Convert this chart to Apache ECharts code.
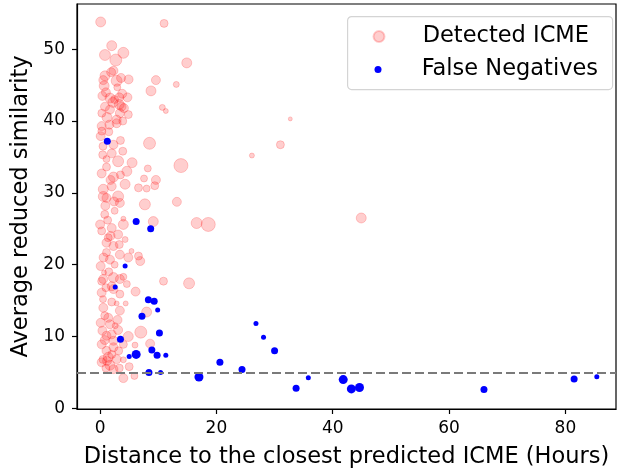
<!DOCTYPE html>
<html>
<head>
<meta charset="utf-8">
<script src="https://cdn.jsdelivr.net/npm/echarts@6/dist/echarts.min.js"></script>
<style>html,body{margin:0;padding:0;background:#fff}#c{width:618px;height:474px}</style>
</head>
<body>
<div id="c"></div>
<script>
// [distance (h), similarity, weight]
const detected = [
[0.1,53.8,8],[11.0,53.6,6],[2.0,50.5,8],[0.84,49.2,9],[4.0,49.5,9],[2.7,48.5,10],[14.9,48.1,8],[2.3,47.0,7],[0.84,46.3,8],[0.55,45.7,7],[2.85,45.6,9],[4.9,45.8,7],[0.7,44.9,8],[9.6,45.7,7],[13.1,45.1,4],[8.75,44.2,8],[2.96,44.7,5],[1.7,43.2,8],[3.3,43.3,7],[4.7,43.3,7],[3.3,42.3,8],[0.84,42.0,7],[10.7,41.9,4],[11.3,41.4,3],[3.7,42.0,7],[3.4,41.1,7],[1.7,41.6,7],[0.3,41.1,6],[4.85,40.9,6],[2.85,40.2,7],[32.7,40.3,2],
[0.27,39.3,7],[1.6,39.5,7],[2.85,39.7,7],[0.1,37.9,7],[2.3,36.7,7],[3.5,37.3,6],[8.5,36.9,10],[31.0,36.7,6],[26.1,35.2,3],[0.45,35.3,6],[1.1,34.7,5],[3.1,34.4,9],[5.5,34.2,8],[13.9,33.8,12],[1.1,33.6,6],[4.6,33.0,8],[8.2,33.4,5],[2.3,32.2,8],[0.27,32.7,7],[7.55,32.0,5],[9.6,31.8,7],[4.3,31.2,8],[6.6,30.7,6],[8.0,30.6,5],[9.4,31.0,6],[0.55,30.5,8],[2.0,30.9,7],[0.55,29.5,8],[3.1,29.5,9],[13.2,28.75,7],[7.7,28.4,9],[3.4,28.6,7],[1.1,29.3,7],
[9.15,26.0,8],[16.6,25.8,9],[18.6,25.6,12],[44.9,26.5,8],[4.0,26.4,3],[0,25.6,7],[0.27,24.7,6],[2.0,25.1,7],[4.0,25.6,8],[3.1,24.2,7],[1.4,23.75,6],[4.3,23.5,4],[1.1,23.05,7],[2.3,22.6,7],[5.4,21.9,3],[1.1,21.7,6],[1.7,20.7,7],[3.4,21.4,7],[4.85,21.0,7],[6.6,21.2,6],[6.9,20.5,7],[0.1,19.8,7],
[0.67,18.9,3],[0.55,18.0,7],[2.3,18.2,8],[3.4,18.0,7],[10.9,17.7,6],[15.3,17.4,9],[4.6,17.3,5],[0.27,17.7,6],[0.27,16.1,7],[2.3,16.6,7],[4.0,18.3,5],[6.1,16.25,7],[3.4,15.9,6],[2.85,14.6,3],[4.4,14.6,3],[0.55,14.0,7],[3.4,13.6,7],[8.0,13.4,8],[1.4,12.6,7],[0.1,11.9,7],[1.7,11.7,7],[2.6,11.5,4],[0.4,10.8,7],[3.1,10.9,7],[7.0,10.6,10],[4.85,10.0,8],[1.1,10.1,7],
[2.3,9.4,7],[4.0,8.9,6],[8.6,9.0,7],[0.27,8.9,7],[6.0,8.8,4],[1.1,8.0,7],[2.3,8.5,7],[1.4,7.1,8],[0.27,6.4,7],[1.7,6.0,8],[2.85,6.85,7],[4.0,6.75,4],[5.0,5.8,6],[5.9,4.5,5],[4.0,4.2,7],[2.3,5.45,7],
[0.5,6.8,6],[1.0,5.6,6],[2.0,7.5,6],[0.8,12.9,6],[2.0,14.8,6],[0.5,15.2,5],[1.5,19.0,6],[2.5,20.0,5],[0.8,27.0,6],[1.3,26.2,6],[2.5,27.5,5],[0.5,36.5,6],[1.5,38.5,6],[2.5,43.0,6],[1.0,44.0,7],[3.9,40.0,6],
[1.2,40.5,8],[2.2,42.6,8],[4.1,41.8,7],[3.8,43.8,7],[0.4,43.5,7],[1.9,46.8,7],[3.6,46.0,7],[0.3,38.6,6],[2.0,35.5,7],[3.9,35.8,6],[1.8,31.8,7],[3.5,32.5,6],[0.9,28.2,7],[2.4,28.8,7],[1.8,24.0,7],[3.3,22.8,6],[0.6,21.0,7],[2.0,17.0,7],[1.0,16.8,6],[3.0,12.3,7],[2.0,10.3,7],[0.8,9.5,7],[3.2,8.0,6],[1.2,6.6,7],[3.3,5.6,6]
];
const falseNegatives = [
[2.6,16.9,1],[8.3,15.1,2],[9.3,14.9,2],[9.9,13.7,1],[7.2,12.8,2],[10.2,10.5,2],[3.5,9.6,2],[6.2,7.5,3],[5.0,7.2,1],[8.9,8.1,2],[9.8,7.4,2],[11.3,7.4,1],[20.6,6.4,2],[8.4,5.0,2],[10.4,5.0,1],[17.0,4.35,3],[6.2,26.0,2],[8.7,25.0,2],[4.3,19.8,1],[1.24,37.2,2],[26.8,11.8,1],[28.1,9.9,1],[30.0,8.0,2],[24.4,5.4,2],[33.7,2.8,2],[35.8,4.25,1],[41.8,4.0,3],[43.2,2.7,3],[44.6,2.9,3],[66.0,2.6,2],[81.5,4.07,2],[85.4,4.4,1]
];
const xTicks = [0, 20, 40, 60, 80];
const yTicks = [0, 10, 20, 30, 40, 50];
const threshold = 5;

const chart = echarts.init(document.getElementById('c'), null, {renderer: 'canvas'});
const FONT = 'DejaVu Sans';
chart.setOption({
  animation: false,
  backgroundColor: '#fff',
  textStyle: {fontFamily: FONT},
  grid: {left: 77, right: 2, top: 4, bottom: 64, show: true, borderColor: '#000', borderWidth: 1.2, backgroundColor: 'transparent'},
  xAxis: {
    type: 'value', min: -3.97, max: 88.7,
    name: 'Distance to the closest predicted ICME (Hours)',
    nameLocation: 'middle', nameGap: 37,
    nameTextStyle: {fontFamily: FONT, fontSize: 22.5, color: '#000'},
    axisLine: {show: true, onZero: false, lineStyle: {color: '#000', width: 1.2}},
    axisTick: {show: true, length: 5, lineStyle: {color: '#000', width: 1.2}, customValues: xTicks},
    axisLabel: {fontFamily: FONT, fontSize: 17, color: '#000', margin: 11, customValues: xTicks},
    splitLine: {show: false}
  },
  yAxis: {
    type: 'value', min: -0.1, max: 56.3,
    name: 'Average reduced similarity',
    nameLocation: 'middle', nameGap: 38, nameRotate: 90,
    nameTextStyle: {fontFamily: FONT, fontSize: 22.5, color: '#000'},
    axisLine: {show: true, onZero: false, lineStyle: {color: '#000', width: 1.2}},
    axisTick: {show: true, length: 5, lineStyle: {color: '#000', width: 1.2}, customValues: yTicks},
    axisLabel: {fontFamily: FONT, fontSize: 17, color: '#000', margin: 12, customValues: yTicks},
    splitLine: {show: false}
  },
  graphic: [{
    type: 'rect', left: 347, top: 16, z: 50,
    shape: {width: 265, height: 73, r: 4},
    style: {fill: 'rgba(255,255,255,0.8)', stroke: '#d4d4d4', lineWidth: 1.2}
  }],
  legend: [
    {data: ['Detected ICME'], left: 372.5, top: 25, padding: 0, itemWidth: 77.4, itemHeight: 11, z: 60,
     textStyle: {fontFamily: FONT, fontSize: 22.5, color: '#000'}, selectedMode: false},
    {data: ['False Negatives'], left: 374.5, top: 58, padding: 0, itemWidth: 77.4, itemHeight: 7, z: 60,
     textStyle: {fontFamily: FONT, fontSize: 22.5, color: '#000'}, selectedMode: false}
  ],
  series: [
    {
      name: 'Detected ICME', type: 'scatter', data: detected,
      symbol: 'circle', symbolSize: d => 2 + d[2],
      itemStyle: {color: 'rgba(255,0,0,0.24)', borderColor: 'rgba(255,0,0,0.24)', borderWidth: 1},
      emphasis: {disabled: true},
      markLine: {
        silent: true, symbol: ['none', 'none'], label: {show: false},
        lineStyle: {color: '#7a7a7a', type: [9, 4], width: 2},
        data: [{yAxis: threshold}]
      }
    },
    {
      name: 'False Negatives', type: 'scatter', data: falseNegatives,
      symbol: 'circle', symbolSize: d => 3 + 2 * d[2],
      itemStyle: {color: '#0000ff', opacity: 1},
      emphasis: {disabled: true}
    }
  ]
});
</script>
</body>
</html>
